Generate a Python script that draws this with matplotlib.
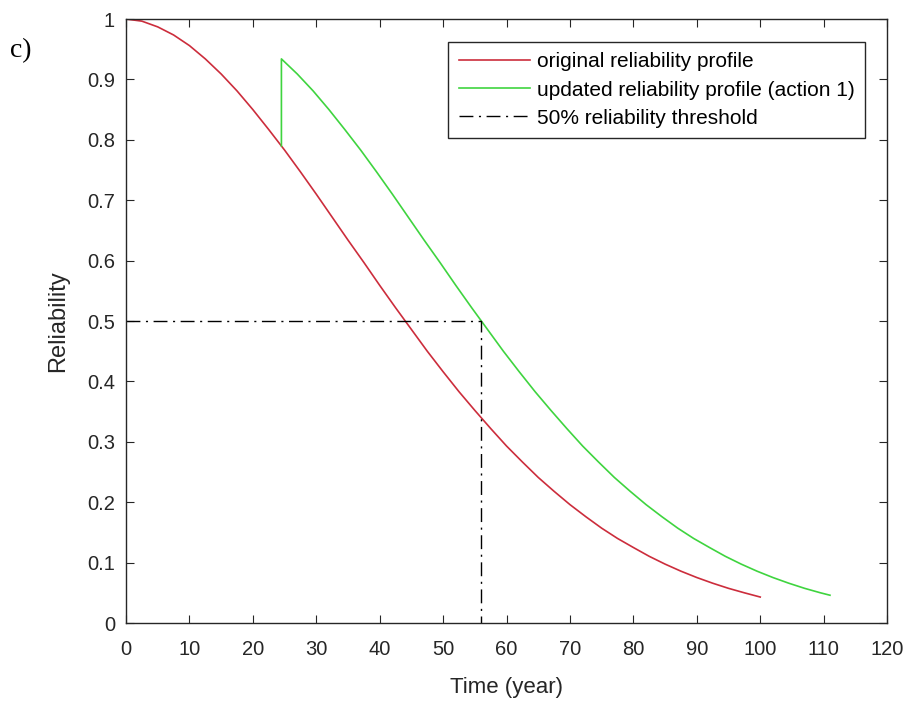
import matplotlib.pyplot as plt

# original reliability profile
t_orig = [0, 2.5, 5, 7.5, 10, 12.5, 15, 17.5, 20, 22.5, 25, 27.5, 30, 32.5, 35, 37.5, 40,
          42.5, 45, 47.5, 50, 52.5, 55, 57.5, 60, 62.5, 65, 67.5, 70, 72.5, 75, 77.5, 80,
          82.5, 85, 87.5, 90, 92.5, 95, 97.5, 100]
r_orig = [1.0, 0.9965, 0.987, 0.9736, 0.956, 0.934, 0.909, 0.881, 0.850, 0.817, 0.783,
          0.747, 0.710, 0.672, 0.634, 0.597, 0.559, 0.522, 0.486, 0.450, 0.416, 0.383,
          0.352, 0.322, 0.293, 0.2666, 0.241, 0.218, 0.196, 0.176, 0.157, 0.140, 0.125,
          0.1104, 0.0975, 0.0858, 0.0753, 0.0659, 0.0574, 0.050, 0.043]

# updated profile after action 1 (jump at ~24.5 years)
t_upd = [24.5, 24.5, 27, 29.5, 32, 34.5, 37, 39.5, 42, 44.5, 47, 49.5, 52, 54.5, 57, 59.5,
         62, 64.5, 67, 69.5, 72, 74.5, 77, 79.5, 82, 84.5, 87, 89.5, 92, 94.5, 97, 99.5,
         102, 104.5, 107, 109.5, 111]
r_upd = [0.79, 0.934, 0.909, 0.881, 0.850, 0.817, 0.783, 0.747, 0.710, 0.672, 0.634, 0.597,
         0.559, 0.522, 0.486, 0.450, 0.416, 0.383, 0.352, 0.322, 0.293, 0.2666, 0.241, 0.218,
         0.196, 0.176, 0.157, 0.140, 0.125, 0.1104, 0.0975, 0.0858, 0.0753, 0.0659, 0.0574,
         0.050, 0.046]

# 50% threshold
t_thr = [0, 56, 56]
r_thr = [0.5, 0.5, 0]

xticks = list(range(0, 121, 10))
yticks = [0, 0.1, 0.2, 0.3, 0.4, 0.5, 0.6, 0.7, 0.8, 0.9, 1]
ylabels = ['0', '0.1', '0.2', '0.3', '0.4', '0.5', '0.6', '0.7', '0.8', '0.9', '1']

plt.rcParams['font.family'] = ['Liberation Sans', 'DejaVu Sans']
dark = '#262626'

fig = plt.figure(figsize=(9.1, 7.05), dpi=100)
ax = fig.add_axes([0.1385, 0.1163, 0.8363, 0.8567])

ax.plot(t_orig, r_orig, color='#cc2d3c', lw=1.2, label='original reliability profile')
ax.plot(t_upd, r_upd, color='#3fd43f', lw=1.2, label='updated reliability profile (action 1)')
ax.plot(t_thr, r_thr, color='black', lw=1.0, ls=(0, (10, 4, 1.5, 4)),
        label='50% reliability threshold')

ax.set_xlim(0, 120)
ax.set_ylim(0, 1)
ax.set_xticks(xticks)
ax.set_yticks(yticks)
ax.set_yticklabels(ylabels)
ax.tick_params(direction='in', top=True, right=True, labelsize=14.5, length=5.5,
               color=dark, labelcolor=dark)
ax.tick_params(axis='x', pad=12)
ax.tick_params(axis='y', pad=8)
for s in ax.spines.values():
    s.set_color(dark)
    s.set_linewidth(1.0)

ax.set_xlabel('Time (year)', fontsize=16, color=dark, va='center')
ax.set_ylabel('Reliability', fontsize=17, color=dark, va='center')
ax.xaxis.set_label_coords(0.5, -0.106)
ax.yaxis.set_label_coords(-0.0894, 0.5)

leg = ax.legend(loc='upper right', bbox_to_anchor=(0.971, 0.962), borderaxespad=0,
                fontsize=15, handlelength=3.4, frameon=True, fancybox=False,
                edgecolor=dark, framealpha=1, borderpad=0.5, labelspacing=0.44,
                handletextpad=0.35)
leg.get_frame().set_linewidth(1.0)

fig.text(0.011, 0.928, 'c)', fontsize=20, family='Liberation Serif', va='center')

fig.savefig('out.png', dpi=100)
